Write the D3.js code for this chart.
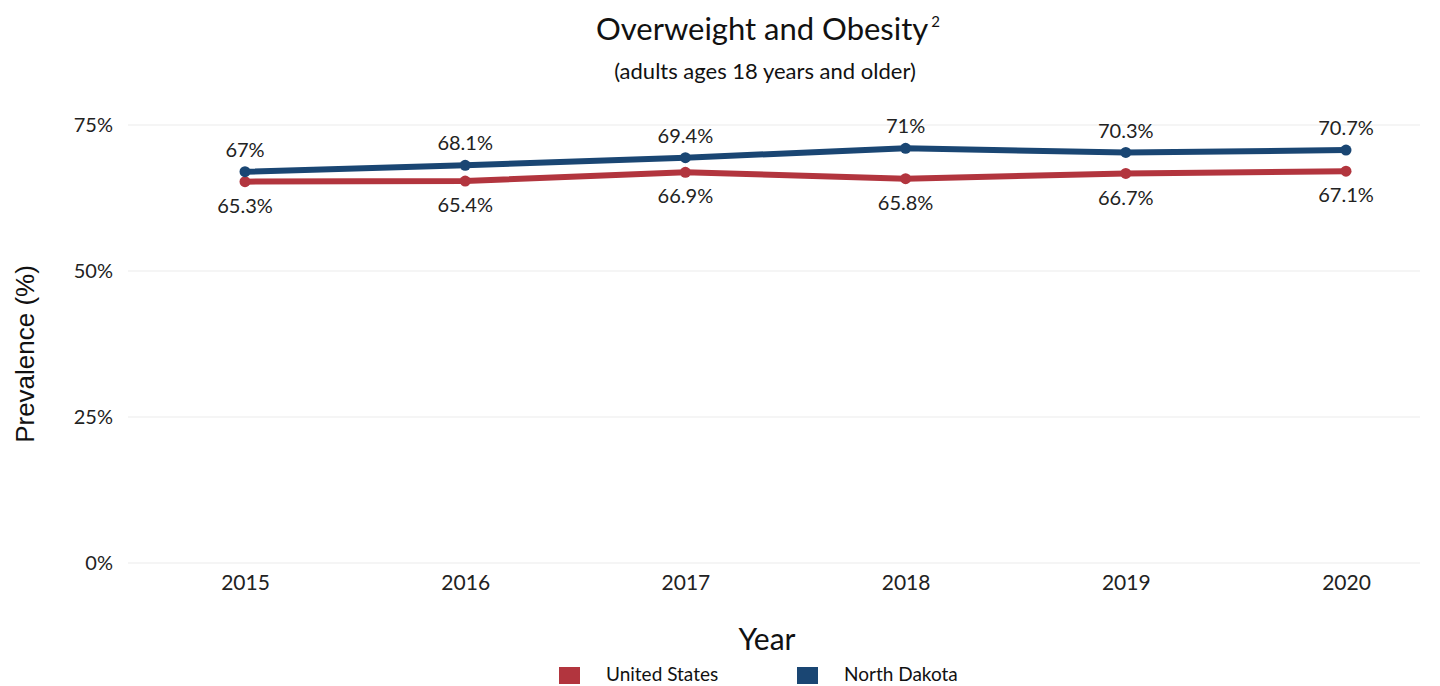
<!DOCTYPE html>
<html><head><meta charset="utf-8">
<script src="https://cdn.jsdelivr.net/npm/d3@7"></script>
<style>body{margin:0;background:#fff}svg{display:block}</style>
</head><body>
<svg id="c" width="1440" height="686"></svg>
<script>
const years = ["2015","2016","2017","2018","2019","2020"];
const usValues = [65.3, 65.4, 66.9, 65.8, 66.7, 67.1];
const ndValues = [67, 68.1, 69.4, 71, 70.3, 70.7];
const yTicks = [0, 25, 50, 75];
const seriesNames = ["United States", "North Dakota"];
const colors = ["#B2353E", "#1A4673"];

const svg = d3.select("#c");
const font = "Lato, 'Open Sans', sans-serif";
const x = d3.scalePoint().domain(years).range([245, 1346]);
const y = d3.scaleLinear().domain([0, 75]).range([563, 125]);

// gridlines
svg.append("g").selectAll("line").data(yTicks).join("line")
  .attr("x1", 128).attr("x2", 1420)
  .attr("y1", d => y(d)).attr("y2", d => y(d))
  .attr("stroke", "#ececec").attr("stroke-width", 1.2);

// y axis labels
const ya = svg.append("g").attr("transform", "translate(113,0)")
  .call(d3.axisLeft(y).tickValues(yTicks).tickFormat(d => d + "%").tickSize(0).tickPadding(0));
ya.select(".domain").remove();
ya.selectAll("text").attr("font-family", font).attr("font-size", 20).attr("fill", "#222").attr("dy", "0.32em");

// x axis labels
const xa = svg.append("g").attr("transform", "translate(0,575)")
  .call(d3.axisBottom(x).tickSize(0).tickPadding(0));
xa.select(".domain").remove();
xa.selectAll("text").attr("font-family", font).attr("font-size", 21).attr("fill", "#222").attr("dy", "0.71em");

// lines
const series = [usValues, ndValues];
const line = d3.line().x((d, i) => x(years[i])).y(d => y(d));
series.forEach((vals, si) => {
  svg.append("path").datum(vals).attr("d", line)
    .attr("fill", "none").attr("stroke", colors[si]).attr("stroke-width", 6)
    .attr("stroke-linejoin", "round");
  svg.append("g").selectAll("circle").data(vals).join("circle")
    .attr("cx", (d, i) => x(years[i])).attr("cy", d => y(d)).attr("r", 5.5)
    .attr("fill", colors[si]);
  svg.append("g").selectAll("text").data(vals).join("text")
    .attr("x", (d, i) => x(years[i])).attr("y", d => y(d) + (si === 0 ? 26 : -20))
    .attr("text-anchor", "middle").attr("dominant-baseline", "middle")
    .attr("font-family", font).attr("font-size", 20).attr("fill", "#222")
    .text(d => d + "%");
});

// title
const t = svg.append("text").attr("x", 768).attr("y", 40).attr("text-anchor", "middle")
  .attr("font-family", font).attr("font-size", 31).attr("fill", "#111");
t.append("tspan").text("Overweight and Obesity");
t.append("tspan").attr("font-size", 15).attr("dx", 3).attr("dy", -13).text("2");
svg.append("text").attr("x", 765).attr("y", 79).attr("text-anchor", "middle")
  .attr("font-family", font).attr("font-size", 22).attr("fill", "#111")
  .text("(adults ages 18 years and older)");

// axis titles
svg.append("text").attr("x", 767).attr("y", 650).attr("text-anchor", "middle")
  .attr("font-family", font).attr("font-size", 30).attr("fill", "#111").text("Year");
svg.append("text").attr("transform", "translate(34,354) rotate(-90)").attr("text-anchor", "middle")
  .attr("font-family", "'Liberation Sans', Arial, sans-serif").attr("font-size", 26).attr("fill", "#111")
  .text("Prevalence (%)");

// legend
const legX = [559, 797];
const lg = svg.append("g").selectAll("g").data(seriesNames).join("g")
  .attr("transform", (d, i) => `translate(${legX[i]},667)`);
lg.append("rect").attr("width", 21).attr("height", 17).attr("fill", (d, i) => colors[i]);
lg.append("text").attr("x", 47).attr("y", 9).attr("dominant-baseline", "middle")
  .attr("font-family", font).attr("font-size", 19).attr("fill", "#111").text(d => d);
</script>
</body></html>
